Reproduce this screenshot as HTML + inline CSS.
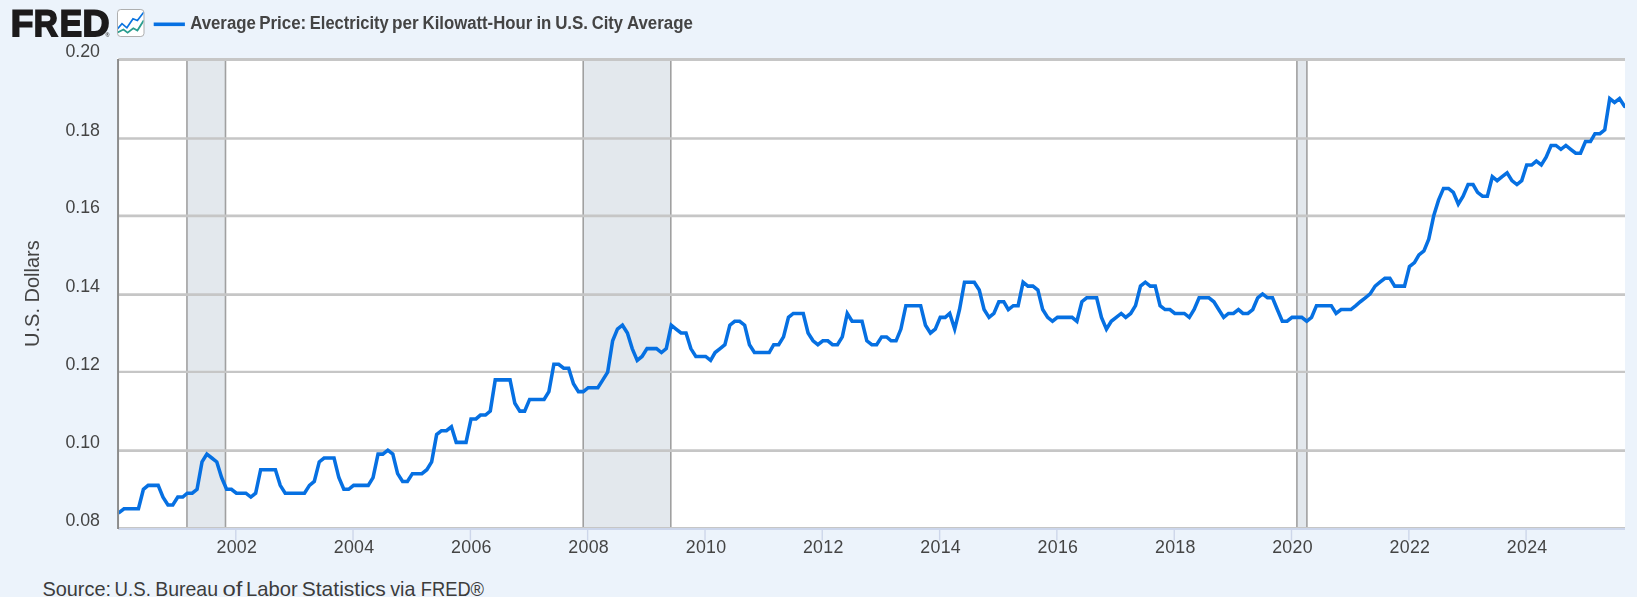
<!DOCTYPE html>
<html lang="en"><head><meta charset="utf-8"><title>FRED - Average Price: Electricity per Kilowatt-Hour in U.S. City Average</title>
<style>
html,body{margin:0;padding:0;background:#ecf3fb;}
body{width:1637px;height:597px;overflow:hidden;position:relative;font-family:"Liberation Sans",sans-serif;}
svg{position:absolute;left:0;display:block;overflow:hidden;}
#chart{top:0;will-change:transform;}
#src{top:572px;}
text{font-family:"Liberation Sans",sans-serif;}
.ax{font-size:17.8px;fill:#444444;}
</style></head><body>
<svg id="chart" width="1637" height="572" viewBox="0 0 1637 572">
<rect x="0" y="0" width="1637" height="572" fill="#ecf3fb"/>
<rect x="117.0" y="58.1" width="1508.0" height="471.75" fill="#ffffff"/>

<rect x="186.95" y="59.5" width="38.55" height="468.85" fill="#e3e8ed"/>
<line x1="186.95" x2="186.95" y1="59.5" y2="528.35" stroke="#a0a0a0" stroke-width="1.6"/>
<line x1="225.50" x2="225.50" y1="59.5" y2="528.35" stroke="#a0a0a0" stroke-width="1.6"/>
<rect x="583.20" y="59.5" width="87.60" height="468.85" fill="#e3e8ed"/>
<line x1="583.20" x2="583.20" y1="59.5" y2="528.35" stroke="#a0a0a0" stroke-width="1.6"/>
<line x1="670.80" x2="670.80" y1="59.5" y2="528.35" stroke="#a0a0a0" stroke-width="1.6"/>
<rect x="1296.90" y="59.5" width="10.00" height="468.85" fill="#e3e8ed"/>
<line x1="1296.90" x2="1296.90" y1="59.5" y2="528.35" stroke="#a0a0a0" stroke-width="1.6"/>
<line x1="1306.90" x2="1306.90" y1="59.5" y2="528.35" stroke="#a0a0a0" stroke-width="1.6"/>
<line x1="118.4" x2="1625.0" y1="528.40" y2="528.40" stroke="#c6c6c6" stroke-width="2.9"/>
<text class="ax" x="100.0" y="526.30" text-anchor="end">0.08</text>
<line x1="118.4" x2="1625.0" y1="450.65" y2="450.65" stroke="#c6c6c6" stroke-width="2.6"/>
<text class="ax" x="100.0" y="447.90" text-anchor="end">0.10</text>
<line x1="118.4" x2="1625.0" y1="371.95" y2="371.95" stroke="#c6c6c6" stroke-width="2.2"/>
<text class="ax" x="100.0" y="370.30" text-anchor="end">0.12</text>
<line x1="118.4" x2="1625.0" y1="294.60" y2="294.60" stroke="#c6c6c6" stroke-width="2.7"/>
<text class="ax" x="100.0" y="291.90" text-anchor="end">0.14</text>
<line x1="118.4" x2="1625.0" y1="215.85" y2="215.85" stroke="#c6c6c6" stroke-width="2.6"/>
<text class="ax" x="100.0" y="212.90" text-anchor="end">0.16</text>
<line x1="118.4" x2="1625.0" y1="138.40" y2="138.40" stroke="#c6c6c6" stroke-width="2.5"/>
<text class="ax" x="100.0" y="135.80" text-anchor="end">0.18</text>
<line x1="118.4" x2="1625.0" y1="59.50" y2="59.50" stroke="#c6c6c6" stroke-width="2.85"/>
<text class="ax" x="100.0" y="57.00" text-anchor="end">0.20</text>
<line x1="118.4" x2="1625.0" y1="529.0" y2="529.0" stroke="#ccd6eb" stroke-width="1.8"/>
<line x1="235.79" x2="235.79" y1="529.8" y2="540.6" stroke="#cdd6ea" stroke-width="1.4"/>
<text class="ax" x="236.69" y="553.2" text-anchor="middle" textLength="40.4" lengthAdjust="spacing">2002</text>
<line x1="353.02" x2="353.02" y1="529.8" y2="540.6" stroke="#cdd6ea" stroke-width="1.4"/>
<text class="ax" x="353.92" y="553.2" text-anchor="middle" textLength="40.4" lengthAdjust="spacing">2004</text>
<line x1="470.41" x2="470.41" y1="529.8" y2="540.6" stroke="#cdd6ea" stroke-width="1.4"/>
<text class="ax" x="471.31" y="553.2" text-anchor="middle" textLength="40.4" lengthAdjust="spacing">2006</text>
<line x1="587.63" x2="587.63" y1="529.8" y2="540.6" stroke="#cdd6ea" stroke-width="1.4"/>
<text class="ax" x="588.53" y="553.2" text-anchor="middle" textLength="40.4" lengthAdjust="spacing">2008</text>
<line x1="705.02" x2="705.02" y1="529.8" y2="540.6" stroke="#cdd6ea" stroke-width="1.4"/>
<text class="ax" x="705.92" y="553.2" text-anchor="middle" textLength="40.4" lengthAdjust="spacing">2010</text>
<line x1="822.25" x2="822.25" y1="529.8" y2="540.6" stroke="#cdd6ea" stroke-width="1.4"/>
<text class="ax" x="823.15" y="553.2" text-anchor="middle" textLength="40.4" lengthAdjust="spacing">2012</text>
<line x1="939.64" x2="939.64" y1="529.8" y2="540.6" stroke="#cdd6ea" stroke-width="1.4"/>
<text class="ax" x="940.54" y="553.2" text-anchor="middle" textLength="40.4" lengthAdjust="spacing">2014</text>
<line x1="1056.87" x2="1056.87" y1="529.8" y2="540.6" stroke="#cdd6ea" stroke-width="1.4"/>
<text class="ax" x="1057.77" y="553.2" text-anchor="middle" textLength="40.4" lengthAdjust="spacing">2016</text>
<line x1="1174.26" x2="1174.26" y1="529.8" y2="540.6" stroke="#cdd6ea" stroke-width="1.4"/>
<text class="ax" x="1175.16" y="553.2" text-anchor="middle" textLength="40.4" lengthAdjust="spacing">2018</text>
<line x1="1291.49" x2="1291.49" y1="529.8" y2="540.6" stroke="#cdd6ea" stroke-width="1.4"/>
<text class="ax" x="1292.39" y="553.2" text-anchor="middle" textLength="40.4" lengthAdjust="spacing">2020</text>
<line x1="1408.87" x2="1408.87" y1="529.8" y2="540.6" stroke="#cdd6ea" stroke-width="1.4"/>
<text class="ax" x="1409.77" y="553.2" text-anchor="middle" textLength="40.4" lengthAdjust="spacing">2022</text>
<line x1="1526.10" x2="1526.10" y1="529.8" y2="540.6" stroke="#cdd6ea" stroke-width="1.4"/>
<text class="ax" x="1527.00" y="553.2" text-anchor="middle" textLength="40.4" lengthAdjust="spacing">2024</text>
<clipPath id="cp"><rect x="117.0" y="59.5" width="1508.0" height="468.85"/></clipPath>
<polyline clip-path="url(#cp)" points="119.00,512.72 123.98,508.81 128.64,508.81 133.61,508.81 138.43,508.81 143.41,489.28 148.23,485.37 153.20,485.37 158.18,485.37 163.00,497.09 167.98,504.91 172.80,504.91 177.77,497.09 182.75,497.09 187.25,493.19 192.23,493.19 197.05,489.28 202.02,461.93 206.84,454.12 211.82,458.02 216.80,461.93 221.61,477.56 226.59,489.28 231.41,489.28 236.39,493.19 241.37,493.19 245.86,493.19 250.84,497.09 255.66,493.19 260.64,469.74 265.46,469.74 270.43,469.74 275.41,469.74 280.23,485.37 285.21,493.19 290.02,493.19 295.00,493.19 299.98,493.19 304.48,493.19 309.46,485.37 314.27,481.47 319.25,461.93 324.07,458.02 329.05,458.02 334.03,458.02 338.84,477.56 343.82,489.28 348.64,489.28 353.62,485.37 358.60,485.37 363.25,485.37 368.23,485.37 373.05,477.56 378.03,454.12 382.84,454.12 387.82,450.21 392.80,454.12 397.62,473.65 402.60,481.47 407.41,481.47 412.39,473.65 417.37,473.65 421.87,473.65 426.84,469.74 431.66,461.93 436.64,434.58 441.46,430.67 446.44,430.67 451.41,426.77 456.23,442.39 461.21,442.39 466.03,442.39 471.01,418.95 475.98,418.95 480.48,415.04 485.46,415.04 490.28,411.14 495.25,379.88 500.07,379.88 505.05,379.88 510.03,379.88 514.85,403.32 519.82,411.14 524.64,411.14 529.62,399.42 534.60,399.42 539.09,399.42 544.07,399.42 548.89,391.60 553.87,364.25 558.69,364.25 563.66,368.16 568.64,368.16 573.46,383.79 578.44,391.60 583.26,391.60 588.23,387.69 593.21,387.69 597.87,387.69 602.85,379.88 607.67,372.07 612.64,340.81 617.46,329.09 622.44,325.18 627.42,333.00 632.23,348.62 637.21,360.35 642.03,356.44 647.01,348.62 651.99,348.62 656.48,348.62 661.46,352.53 666.28,348.62 671.26,325.18 676.08,329.09 681.05,333.00 686.03,333.00 690.85,348.62 695.83,356.44 700.64,356.44 705.62,356.44 710.60,360.35 715.10,352.53 720.08,348.62 724.89,344.72 729.87,325.18 734.69,321.27 739.67,321.27 744.65,325.18 749.46,344.72 754.44,352.53 759.26,352.53 764.24,352.53 769.22,352.53 773.71,344.72 778.69,344.72 783.51,336.90 788.49,317.37 793.30,313.46 798.28,313.46 803.26,313.46 808.08,333.00 813.06,340.81 817.87,344.72 822.85,340.81 827.83,340.81 832.49,344.72 837.46,344.72 842.28,336.90 847.26,313.46 852.08,321.27 857.06,321.27 862.03,321.27 866.85,340.81 871.83,344.72 876.65,344.72 881.63,336.90 886.60,336.90 891.10,340.81 896.08,340.81 900.90,329.09 905.87,305.65 910.69,305.65 915.67,305.65 920.65,305.65 925.47,325.18 930.44,333.00 935.26,329.09 940.24,317.37 945.22,317.37 949.71,313.46 954.69,329.09 959.51,309.55 964.49,282.20 969.31,282.20 974.28,282.20 979.26,290.02 984.08,309.55 989.06,317.37 993.88,313.46 998.85,301.74 1003.83,301.74 1008.33,309.55 1013.31,305.65 1018.12,305.65 1023.10,282.20 1027.92,286.11 1032.90,286.11 1037.88,290.02 1042.69,309.55 1047.67,317.37 1052.49,321.27 1057.47,317.37 1062.45,317.37 1067.10,317.37 1072.08,317.37 1076.90,321.27 1081.88,301.74 1086.70,297.83 1091.67,297.83 1096.65,297.83 1101.47,317.37 1106.45,329.09 1111.27,321.27 1116.24,317.37 1121.22,313.46 1125.72,317.37 1130.70,313.46 1135.51,305.65 1140.49,286.11 1145.31,282.20 1150.29,286.11 1155.27,286.11 1160.08,305.65 1165.06,309.55 1169.88,309.55 1174.86,313.46 1179.84,313.46 1184.33,313.46 1189.31,317.37 1194.13,309.55 1199.11,297.83 1203.92,297.83 1208.90,297.83 1213.88,301.74 1218.70,309.55 1223.68,317.37 1228.49,313.46 1233.47,313.46 1238.45,309.55 1242.95,313.46 1247.92,313.46 1252.74,309.55 1257.72,297.83 1262.54,293.92 1267.52,297.83 1272.49,297.83 1277.31,309.55 1282.29,321.27 1287.11,321.27 1292.09,317.37 1297.06,317.37 1301.72,317.37 1306.70,321.27 1311.52,317.37 1316.49,305.65 1321.31,305.65 1326.29,305.65 1331.27,305.65 1336.09,313.46 1341.06,309.55 1345.88,309.55 1350.86,309.55 1355.84,305.65 1360.33,301.74 1365.31,297.83 1370.13,293.92 1375.11,286.11 1379.93,282.20 1384.90,278.30 1389.88,278.30 1394.70,286.11 1399.68,286.11 1404.50,286.11 1409.47,266.58 1414.45,262.67 1418.95,254.85 1423.93,250.95 1428.74,239.23 1433.72,215.78 1438.54,200.15 1443.52,188.43 1448.50,188.43 1453.31,192.34 1458.29,204.06 1463.11,196.25 1468.09,184.53 1473.07,184.53 1477.56,192.34 1482.54,196.25 1487.36,196.25 1492.34,176.71 1497.15,180.62 1502.13,176.71 1507.11,172.81 1511.93,180.62 1516.91,184.53 1521.72,180.62 1526.70,164.99 1531.68,164.99 1536.34,161.08 1541.32,164.99 1546.13,157.18 1551.11,145.46 1555.93,145.46 1560.91,149.36 1565.89,145.46 1570.70,149.36 1575.68,153.27 1580.50,153.27 1585.48,141.55 1590.46,141.55 1594.95,133.73 1599.93,133.73 1604.75,129.83 1609.73,98.57 1614.54,102.48 1619.52,98.57 1624.50,106.38" fill="none" stroke="#0670e2" stroke-width="3.55" stroke-linejoin="miter" stroke-linecap="round"/>
<line x1="118.05" x2="118.05" y1="59.0" y2="528.9" stroke="#8c8c8c" stroke-width="2"/>
<text x="0" y="0" transform="translate(38.9,293.6) rotate(-90)" text-anchor="middle" font-size="20" fill="#444444">U.S. Dollars</text>
<g font-weight="bold" fill="#1c1a1b" stroke="#1c1a1b" stroke-width="1.8" stroke-linejoin="miter" font-size="37.2" text-rendering="geometricPrecision">
<text x="10.73" y="36" textLength="22.61" lengthAdjust="spacingAndGlyphs">F</text>
<text x="33.80" y="36" textLength="24.17" lengthAdjust="spacingAndGlyphs">R</text>
<text x="59.70" y="36" textLength="22.34" lengthAdjust="spacingAndGlyphs">E</text>
<text x="82.64" y="36" textLength="27.03" lengthAdjust="spacingAndGlyphs">D</text></g>
<text x="105.6" y="37.1" font-size="5.4" font-weight="bold" fill="#3a3a3a">®</text>
<rect x="117.5" y="9.5" width="26.5" height="27" rx="3.2" fill="#ffffff" stroke="#a6a6a6" stroke-width="0.9"/>
<clipPath id="ic"><rect x="118" y="10" width="25.5" height="26" rx="3"/></clipPath>
<g clip-path="url(#ic)" fill="none" stroke-width="1.75" stroke-linejoin="miter">
<polyline points="117.4,32.6 123.5,29.5 127.6,32.6 133.3,28.3 137.4,30.5 143.8,20.3" stroke="#2a9d8f"/>
<polyline points="117.4,28.9 122,23.7 126.9,27.8 133,18.8 137.4,20.5 143.8,12.2" stroke="#0b74e0"/>
</g>
<line x1="153.7" x2="184.9" y1="24.3" y2="24.3" stroke="#0670e2" stroke-width="3.6"/>
<text x="190.17" y="28.7" font-size="18" font-weight="bold" fill="#444444" textLength="65.73" lengthAdjust="spacingAndGlyphs">Average</text>
<text x="259.15" y="28.7" font-size="18" font-weight="bold" fill="#444444" textLength="47.12" lengthAdjust="spacingAndGlyphs">Price:</text>
<text x="309.78" y="28.7" font-size="18" font-weight="bold" fill="#444444" textLength="79.03" lengthAdjust="spacingAndGlyphs">Electricity</text>
<text x="392.00" y="28.7" font-size="18" font-weight="bold" fill="#444444" textLength="26.69" lengthAdjust="spacingAndGlyphs">per</text>
<text x="422.56" y="28.7" font-size="18" font-weight="bold" fill="#444444" textLength="109.68" lengthAdjust="spacingAndGlyphs">Kilowatt-Hour</text>
<text x="536.41" y="28.7" font-size="18" font-weight="bold" fill="#444444" textLength="14.97" lengthAdjust="spacingAndGlyphs">in</text>
<text x="555.15" y="28.7" font-size="18" font-weight="bold" fill="#444444" textLength="32.94" lengthAdjust="spacingAndGlyphs">U.S.</text>
<text x="591.74" y="28.7" font-size="18" font-weight="bold" fill="#444444" textLength="31.34" lengthAdjust="spacingAndGlyphs">City</text>
<text x="626.91" y="28.7" font-size="18" font-weight="bold" fill="#444444" textLength="65.99" lengthAdjust="spacingAndGlyphs">Average</text>
</svg>
<svg id="src" width="1637" height="25" viewBox="0 0 1637 25">
<text x="42.39" y="23.8" font-size="20.3" font-weight="normal" fill="#3c3c3c" textLength="68.72" lengthAdjust="spacingAndGlyphs">Source:</text>
<text x="114.57" y="23.8" font-size="20.3" font-weight="normal" fill="#3c3c3c" textLength="36.26" lengthAdjust="spacingAndGlyphs">U.S.</text>
<text x="155.17" y="23.8" font-size="20.3" font-weight="normal" fill="#3c3c3c" textLength="62.83" lengthAdjust="spacingAndGlyphs">Bureau</text>
<text x="222.44" y="23.8" font-size="20.3" font-weight="normal" fill="#3c3c3c" textLength="19.93" lengthAdjust="spacingAndGlyphs">of</text>
<text x="246.05" y="23.8" font-size="20.3" font-weight="normal" fill="#3c3c3c" textLength="51.73" lengthAdjust="spacingAndGlyphs">Labor</text>
<text x="301.75" y="23.8" font-size="20.3" font-weight="normal" fill="#3c3c3c" textLength="84.12" lengthAdjust="spacingAndGlyphs">Statistics</text>
<text x="390.15" y="23.8" font-size="20.3" font-weight="normal" fill="#3c3c3c" textLength="25.23" lengthAdjust="spacingAndGlyphs">via</text>
<text x="420.80" y="23.8" font-size="20.3" font-weight="normal" fill="#3c3c3c" textLength="63.27" lengthAdjust="spacingAndGlyphs">FRED®</text>
</svg></body></html>
